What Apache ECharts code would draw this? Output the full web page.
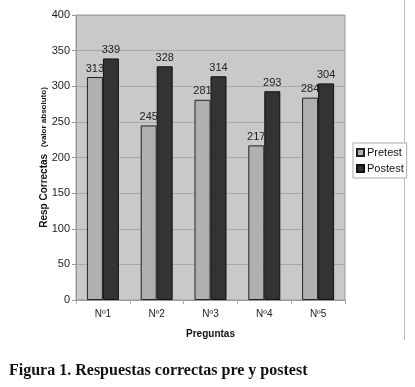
<!DOCTYPE html>
<html><head><meta charset="utf-8">
<script src="https://cdn.jsdelivr.net/npm/echarts@6/dist/echarts.min.js"></script>
<style>html,body{margin:0;padding:0;background:#fff}#c{width:415px;height:387px}</style>
</head><body><div id="c"></div>
<script>
const categories = ['Nº1','Nº2','Nº3','Nº4','Nº5'];
const pretest = [313, 245, 281, 217, 284];
const postest = [339, 328, 314, 293, 304];
const seriesNames = ['Pretest','Postest'];
const chart = echarts.init(document.getElementById('c'), null, {renderer:'canvas'});
const font = 'Liberation Sans, Arial, sans-serif';
chart.setOption({
  animation:false,
  backgroundColor:'#fff',
  grid:{left:76, top:15, right:70, bottom:87, show:true, backgroundColor:'#c9c9c9', borderColor:'#9a9a9a', borderWidth:1},
  legend:{
    data:seriesNames, orient:'vertical', left:353, top:143,
    itemWidth:7, itemHeight:7, itemGap:5, padding:[4,3,4,3],
    borderColor:'#aaa', borderWidth:1, backgroundColor:'#fff',
    textStyle:{fontFamily:font, fontSize:11, color:'#111', padding:[0,0,0,-2]},
    icon:'rect'
  },
  xAxis:{
    type:'category', data:categories,
    name:'Preguntas', nameLocation:'middle', nameGap:29, nameMoveOverlap:false,
    nameTextStyle:{fontFamily:font, fontSize:10, fontWeight:'bold', color:'#111'},
    axisLine:{lineStyle:{color:'#999'}},
    axisTick:{show:true, length:4, lineStyle:{color:'#aaa'}},
    axisLabel:{fontFamily:font, fontSize:10, color:'#222', margin:9}
  },
  yAxis:{
    type:'value', min:0, max:400, interval:50,
    name:'{a|Resp Correctas}  {b|(valor absoluto)}', nameLocation:'middle', nameGap:26, nameMoveOverlap:false,
    nameTextStyle:{rich:{a:{fontFamily:font, fontSize:10, fontWeight:'bold', color:'#111'}, b:{fontFamily:font, fontSize:8, fontWeight:'bold', color:'#111'}}},
    axisLine:{show:true, lineStyle:{color:'#999'}},
    axisTick:{show:true, length:4, lineStyle:{color:'#999'}},
    axisLabel:{fontFamily:font, fontSize:11, color:'#222', margin:6},
    splitLine:{lineStyle:{color:'#a8a8a8', width:1}}
  },
  series:[
    {name:seriesNames[0], type:'bar', data:pretest, barWidth:16, barGap:'0%',
     itemStyle:{color:'#b0b0b0', borderColor:'#222', borderWidth:1},
     label:{show:true, position:'top', distance:3, fontFamily:font, fontSize:11, color:'#222'}},
    {name:seriesNames[1], type:'bar', data:postest, barWidth:16, barGap:'0%',
     itemStyle:{color:'#333333', borderColor:'#111', borderWidth:1},
     label:{show:true, position:'top', distance:3, fontFamily:font, fontSize:11, color:'#222'}}
  ],
  graphic:[
    {type:'line', shape:{x1:404.5, y1:0, x2:404.5, y2:340}, style:{stroke:'#bbb', lineWidth:1}},
    {type:'text', left:9, top:363, style:{text:'Figura 1. Respuestas correctas pre y postest', font:'bold 16px "Liberation Serif", "Times New Roman", serif', fill:'#111'}}
  ]
});
</script></body></html>
